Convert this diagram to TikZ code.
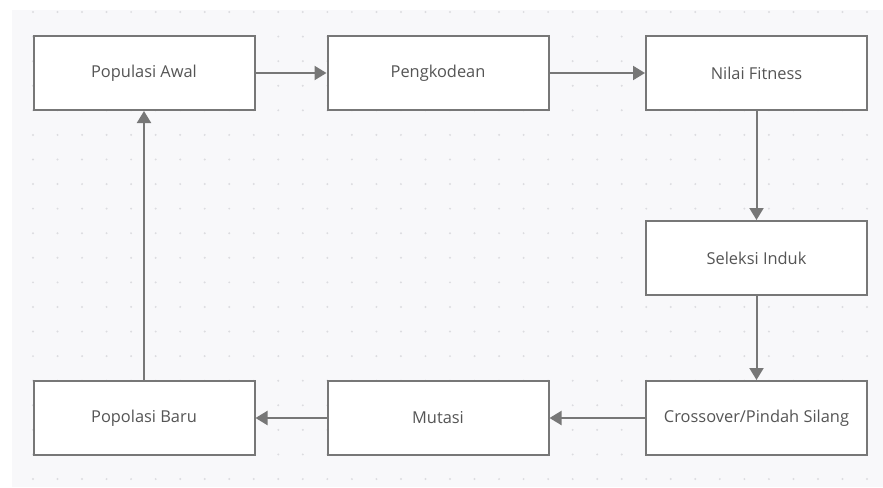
\documentclass[tikz,border=0pt]{standalone}
\usepackage{fontspec}
\setmainfont{Open Sans}
\usetikzlibrary{arrows.meta}
\definecolor{bggray}{HTML}{F8F8FA}
\definecolor{dotgray}{HTML}{DCDCE0}
\definecolor{edgegray}{HTML}{777777}
\definecolor{txtgray}{HTML}{555555}
\tikzset{
  box/.style={draw=edgegray, line width=2pt, fill=white, minimum width=221pt, minimum height=74pt, inner sep=0pt, text=txtgray, font=\fontsize{16.4}{19}\selectfont},
  conn/.style={draw=edgegray, line width=2pt, -{Triangle[length=12pt,width=14pt]}}
}
\begin{document}
\begin{tikzpicture}[x=1pt,y=-1pt]
\useasboundingbox (0,0) rectangle (883,487);
\fill[white] (0,0) rectangle (883,487);
\fill[bggray] (12,10) rectangle (883,487);
\foreach \i in {0,...,34} {
  \foreach \j in {0,...,19} {
    \fill[dotgray] ({33+24.53*\i},{12+24.58*\j}) circle (1.1pt);
  }
}
\node[box] (pa) at (144,73) {Populasi Awal};
\node[box] (pk) at (438,73) {Pengkodean};
\node[box] (nf) at (756.5,73) {Nilai Fitness};
\node[box] (si) at (756.5,258) {Seleksi Induk};
\node[box] (co) at (756.5,418) {Crossover/Pindah Silang};
\node[box] (mu) at (438,418) {Mutasi};
\node[box] (pb) at (144,418) {Popolasi Baru};
\draw[conn] (pa) -- (pk);
\draw[conn] (pk) -- (nf);
\draw[conn] (nf) -- (si);
\draw[conn] (si) -- (co);
\draw[conn] (co) -- (mu);
\draw[conn] (mu) -- (pb);
\draw[conn] (pb) -- (pa);
\end{tikzpicture}
\end{document}
